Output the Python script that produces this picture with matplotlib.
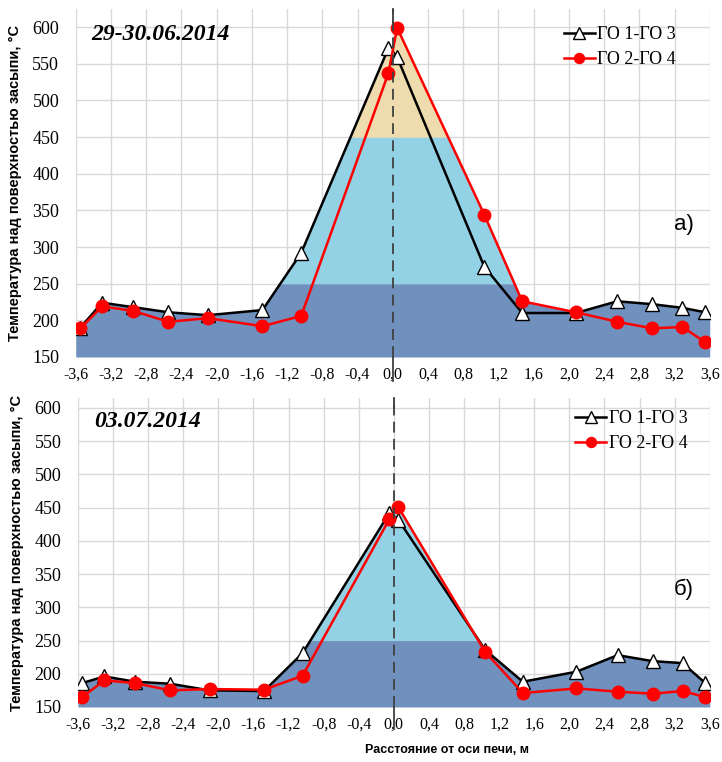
import matplotlib

matplotlib.use("Agg")
import matplotlib.pyplot as plt
import matplotlib.transforms as mtransforms
import numpy as np
from matplotlib.ticker import FuncFormatter, MultipleLocator

# расстояние от оси печи, м
X_POS = [-3.55, -3.3, -2.95, -2.55, -2.1, -1.48, -1.04, -0.05,
         0.05, 1.04, 1.47, 2.08, 2.55, 2.95, 3.29, 3.55]

# а) 29-30.06.2014
TOP_GO13 = [190, 224, 218, 211, 207, 214, 292, 571,
            559, 273, 210, 210, 226, 222, 217, 211]
TOP_GO24 = [189, 219, 213, 198, 203, 192, 206, 537,
            599, 344, 226, 211, 198, 189, 191, 170]

# б) 03.07.2014
BOT_GO13 = [186, 196, 188, 185, 175, 174, 231, 442,
            432, 236, 188, 203, 228, 219, 216, 186]
BOT_GO24 = [165, 190, 186, 175, 177, 176, 197, 433,
            451, 233, 171, 178, 173, 170, 174, 165]

LEGEND_LABELS = ["ГО 1-ГО 3", "ГО 2-ГО 4"]
DATES = ["29-30.06.2014", "03.07.2014"]
PANEL_TAGS = ["а)", "б)"]
Y_LABEL = "Температура над поверхностью засыпи, °С"
X_LABEL = "Расстояние от оси печи, м"

# зоны температуры: нижняя граница, верхняя граница, цвет
BANDS = [(150, 250, "#7090be"), (250, 450, "#93d1e5"), (450, 700, "#efdcae")]

SERIF = ["Liberation Serif", "DejaVu Serif"]
SANS = ["Liberation Sans", "DejaVu Sans"]


def _fmt(v, _pos):
    if abs(v) < 1e-9:
        v = 0.0
    return f"{v:.1f}".replace(".", ",")


def draw_panel(ax, go13, go24, date, tag, ytop, legend_anchor, with_xlabel):
    ax.set_xlim(-3.6, 3.6)
    ax.set_ylim(150, ytop)

    # заливка по огибающей двух кривых, разбитая на температурные зоны
    xs = np.linspace(-3.6, 3.6, 3000)
    env = np.maximum(np.interp(xs, X_POS, go13), np.interp(xs, X_POS, go24))
    for lo, hi, color in BANDS:
        top = np.clip(env, lo, hi)
        ax.fill_between(xs, lo, top, where=env > lo, color=color, lw=0, zorder=1)

    ax.plot(X_POS, go13, color="black", lw=1.8, marker="^", ms=10,
            mfc="white", mec="black", mew=1.0, label=LEGEND_LABELS[0], zorder=3)
    ax.plot(X_POS, go24, color="#ff0000", lw=1.8, marker="o", ms=9,
            mfc="#ff0000", mec="#ff0000", label=LEGEND_LABELS[1], zorder=4)

    # ось печи
    ax.axvline(0, color="#404040", lw=1.3, ls=(0, (6, 3.5)), zorder=5)
    trans = mtransforms.blended_transform_factory(ax.transData, ax.transAxes)
    ax.plot([0, 0], [-0.07, 0], transform=trans, color="#404040", lw=1.3,
            clip_on=False, zorder=5)
    ax.plot([0, 0], [(600 - 150) / (ytop - 150), 1.0], transform=trans,
            color="#404040", lw=1.3, clip_on=False, zorder=5)

    ax.xaxis.set_major_locator(MultipleLocator(0.4))
    ax.set_yticks(np.arange(150, 601, 50))
    ax.xaxis.set_major_formatter(FuncFormatter(_fmt))
    ax.grid(True, color="#d9d9d9", lw=1.0)
    ax.set_axisbelow(True)
    for spine in ax.spines.values():
        spine.set_visible(False)
    ax.tick_params(axis="both", length=0)
    ax.tick_params(axis="x", pad=7)
    ax.tick_params(axis="y", pad=12)
    for lbl in ax.get_xticklabels():
        lbl.set_fontfamily(SERIF)
        lbl.set_fontsize(11.5)
    for lbl in ax.get_yticklabels():
        lbl.set_fontfamily(SERIF)
        lbl.set_fontsize(13)

    ax.set_ylabel(Y_LABEL, family=SANS, fontweight="bold", fontsize=10.5)
    ax.yaxis.set_label_coords(-0.085, 0.5)
    if with_xlabel:
        ax.set_xlabel(X_LABEL, family=SANS, fontweight="bold", fontsize=9)
        ax.xaxis.set_label_coords(0.584, -0.12)

    ax.text(0.025, 0.925, date, transform=ax.transAxes, family=SERIF,
            fontsize=17, fontweight="bold", style="italic", va="center")
    ax.text(0.975, 0.38, tag, transform=ax.transAxes, family=SANS,
            fontsize=16, ha="right", va="center")

    ax.legend(loc="upper left", bbox_to_anchor=legend_anchor, frameon=False,
              prop={"family": SERIF, "size": 13}, handlelength=1.7,
              handletextpad=0.15, borderpad=0, borderaxespad=0,
              labelspacing=0.45, markerscale=0.8)


fig = plt.figure(figsize=(7.22, 7.62), dpi=100)
ax_top = fig.add_axes([0.105, 0.5315, 0.878, 0.457])
ax_bot = fig.add_axes([0.108, 0.0722, 0.875, 0.4055])

draw_panel(ax_top, TOP_GO13, TOP_GO24, DATES[0], PANEL_TAGS[0], 625,
           (0.77, 0.95), False)
draw_panel(ax_bot, BOT_GO13, BOT_GO24, DATES[1], PANEL_TAGS[1], 615,
           (0.787, 0.961), True)

fig.savefig("out.png", dpi=100)
plt.close(fig)
